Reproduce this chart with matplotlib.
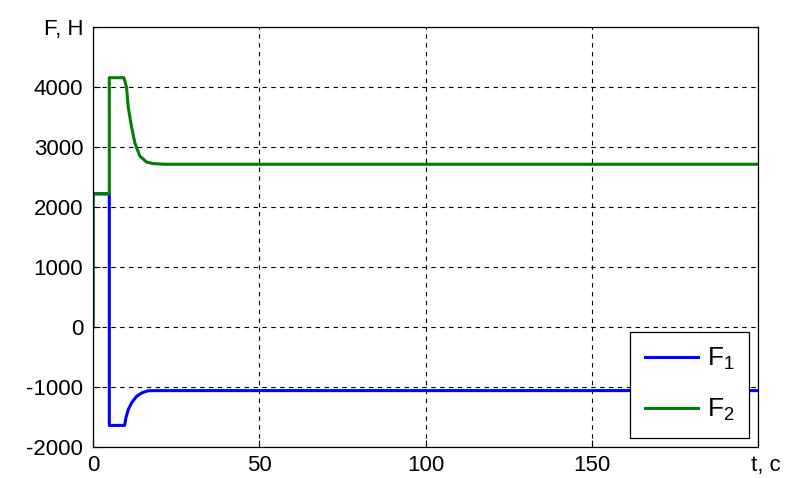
import matplotlib.pyplot as plt

plt.rcParams['font.family'] = ['Liberation Sans', 'DejaVu Sans']
plt.rcParams['mathtext.fontset'] = 'custom'
plt.rcParams['mathtext.rm'] = 'Liberation Sans'
plt.rcParams['mathtext.it'] = 'Liberation Sans'

# time, s
t1 = [0, 0, 4.9, 4.9, 9.5, 9.9, 10.6, 11.6, 13.1, 14.6, 16.6, 20, 200]
t2 = [0, 0, 4.9, 4.9, 9.3, 10.1, 10.6, 11.6, 12.6, 14.1, 16.1, 18.1, 22, 200]

# forces, N
F1 = [0, 2220, 2220, -1640, -1640, -1514, -1376, -1265, -1156, -1100, -1062, -1060, -1060]
F2 = [0, 2220, 2220, 4155, 4155, 3990, 3662, 3336, 3065, 2847, 2749, 2723, 2712, 2712]

xticks = [0, 50, 100, 150]
yticks = [-2000, -1000, 0, 1000, 2000, 3000, 4000, 5000]
ylabels = ['-2000', '-1000', '0', '1000', '2000', '3000', '4000', 'F, H']

fig = plt.figure(figsize=(7.87, 4.78), dpi=100)
ax = fig.add_axes([93 / 787, 31 / 478, 665 / 787, 420 / 478])

ax.plot(t1, F1, color='#0000ff', lw=2.2, label='F$_1$')
ax.plot(t2, F2, color='#008000', lw=2.2, label='F$_2$')

ax.set_xlim(0, 200)
ax.set_ylim(-2000, 5000)
ax.set_xticks(xticks + [200])
ax.set_xticklabels([str(x) for x in xticks] + [''])
ax.set_yticks(yticks)
ax.set_yticklabels(ylabels)
ax.tick_params(direction='in', length=5, width=0.8, labelsize=16, pad=7, colors='black')
ax.tick_params(axis='x', pad=6)
ax.grid(True, color='black', linestyle=(0, (4, 4)), linewidth=0.8)
for s in ax.spines.values():
    s.set_linewidth(0.9)

ax.text(1.012, -0.02, 't, c', transform=ax.transAxes, ha='center', va='top', fontsize=16)

leg = ax.legend(loc='lower right', bbox_to_anchor=(0.9865, 0.0214), borderaxespad=0,
                fontsize=19, frameon=True, fancybox=False, edgecolor='black',
                framealpha=1, handlelength=2.0, handletextpad=0.35, borderpad=0.55,
                labelspacing=0.95)
leg.get_frame().set_linewidth(0.9)

fig.savefig('out.png', dpi=100)
